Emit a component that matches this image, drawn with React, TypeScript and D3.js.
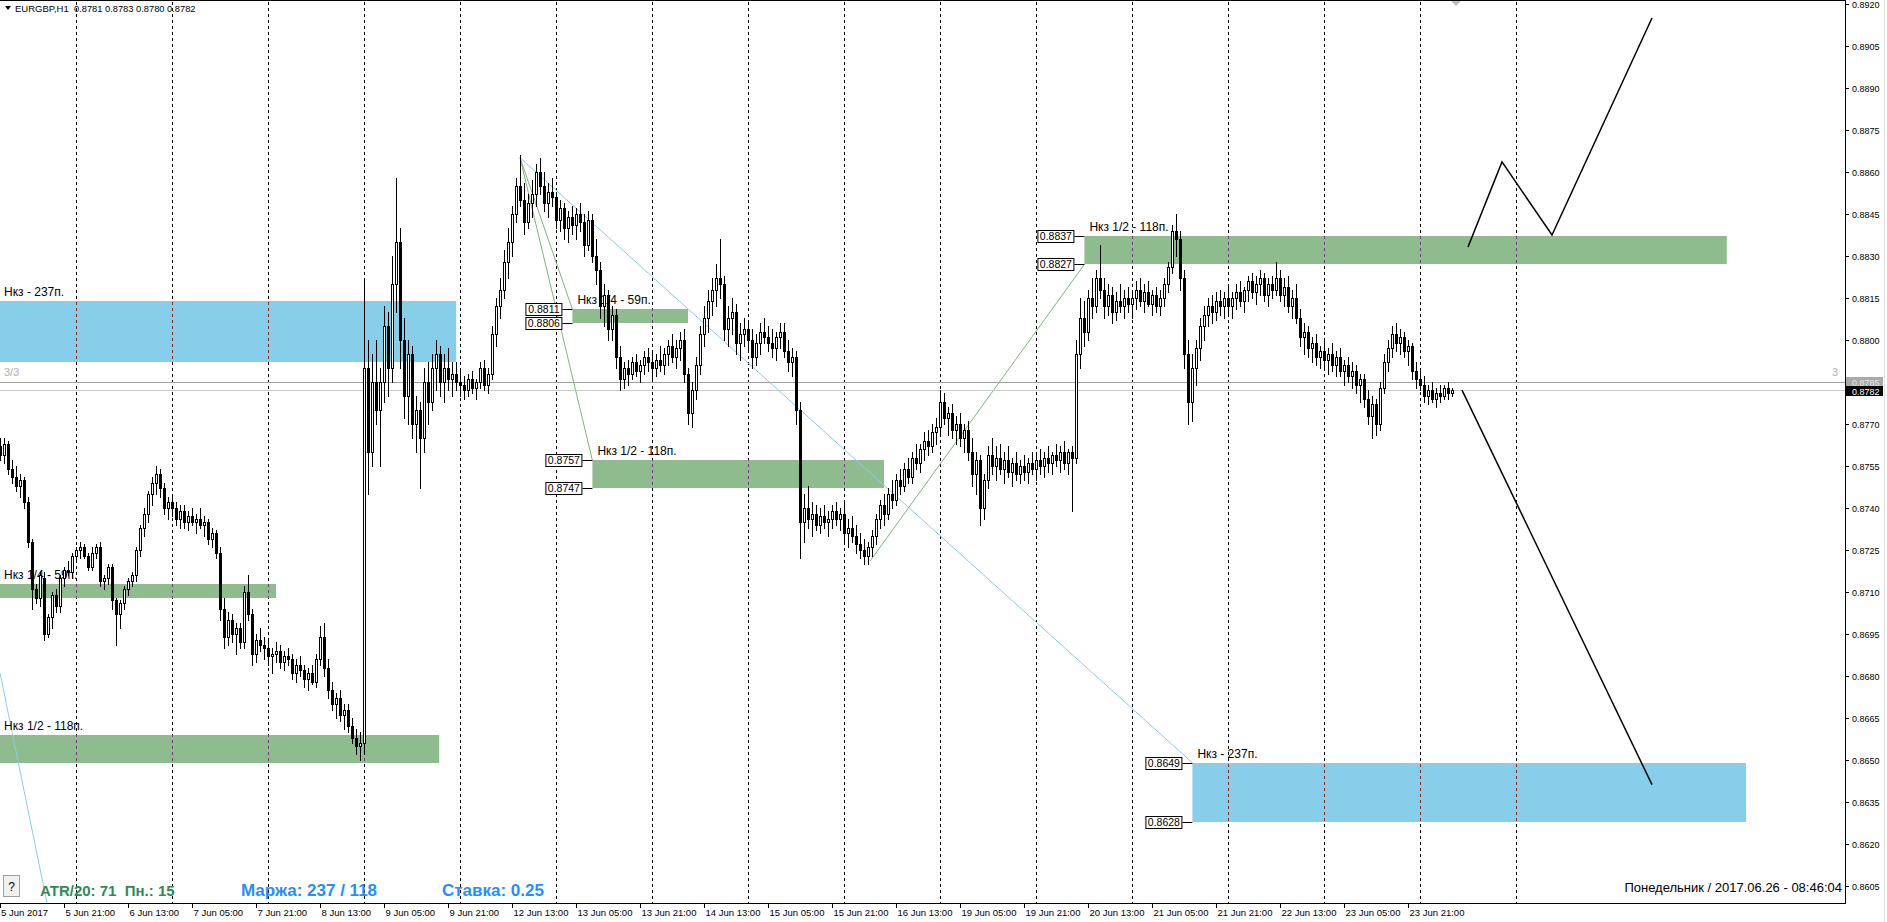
import React from 'react';
import * as d3 from 'd3';

type C = [number, number, number, number]; // open, high, low, close (in 1e-4)

const jun05: C[] = [
  [8762,8765,8757,8759],[8759,8765,8756,8763],[8763,8764,8752,8754],[8754,8757,8749,8751],
  [8751,8755,8746,8748],[8748,8752,8744,8750],[8750,8751,8740,8742],[8742,8744,8726,8728],
  [8728,8729,8704,8711],[8711,8713,8706,8708],[8708,8717,8705,8716],[8715,8717,8693,8695],
  [8695,8702,8694,8701],[8701,8710,8697,8709],[8709,8711,8703,8705],[8705,8716,8703,8715],
  [8715,8719,8712,8718],[8718,8721,8716,8717],[8717,8724,8715,8723],
];
const jun06: C[] = [
  [8723,8726,8721,8725],[8725,8728,8722,8726],[8726,8727,8722,8723],[8723,8724,8718,8719],
  [8719,8726,8718,8724],[8724,8727,8722,8726],[8726,8728,8712,8714],[8714,8716,8711,8715],
  [8715,8720,8713,8719],[8719,8720,8704,8707],[8707,8708,8691,8702],[8702,8707,8697,8706],
  [8706,8712,8704,8711],[8711,8715,8709,8714],[8714,8717,8712,8716],[8716,8726,8714,8725],
  [8725,8734,8723,8733],[8733,8740,8730,8738],[8738,8746,8735,8745],[8745,8751,8741,8749],
  [8749,8755,8745,8752],[8752,8754,8744,8747],[8747,8749,8738,8740],[8740,8744,8736,8742],
];
const jun07: C[] = [
  [8742,8745,8737,8740],[8740,8742,8734,8736],[8736,8741,8733,8739],[8739,8741,8733,8735],
  [8735,8739,8732,8737],[8737,8740,8734,8735],[8735,8738,8731,8736],[8736,8740,8733,8734],
  [8734,8737,8730,8735],[8735,8736,8727,8729],[8729,8733,8726,8731],[8731,8732,8722,8724],
  [8724,8726,8700,8704],[8704,8708,8690,8694],[8694,8703,8691,8700],[8700,8702,8692,8695],
  [8695,8699,8688,8697],[8697,8699,8690,8692],[8692,8712,8690,8710],[8710,8716,8700,8702],
  [8702,8704,8684,8688],[8688,8695,8685,8693],[8693,8697,8689,8691],[8691,8694,8686,8690],
];
const jun08: C[] = [
  [8690,8693,8684,8687],[8687,8690,8681,8688],[8688,8692,8685,8689],[8689,8691,8683,8685],
  [8685,8689,8682,8687],[8687,8690,8684,8686],[8686,8688,8679,8681],[8681,8686,8678,8684],
  [8684,8687,8680,8682],[8682,8684,8676,8679],[8679,8683,8675,8681],[8681,8684,8677,8678],
  [8678,8688,8676,8686],[8686,8698,8684,8694],[8694,8699,8680,8683],[8683,8686,8672,8675],
  [8675,8678,8668,8670],[8670,8674,8665,8672],[8672,8675,8664,8666],[8666,8670,8661,8668],
  [8668,8670,8660,8662],[8662,8665,8656,8658],[8658,8661,8652,8655],[8655,8660,8650,8656],
];
const jun09: C[] = [
  [8656,8822,8652,8790],[8790,8800,8745,8760],[8760,8795,8755,8785],[8785,8800,8770,8775],
  [8775,8790,8755,8785],[8785,8812,8778,8805],[8805,8810,8780,8790],[8790,8830,8785,8820],
  [8820,8858,8810,8835],[8835,8840,8790,8800],[8800,8808,8772,8780],[8780,8800,8770,8795],
  [8795,8798,8765,8770],[8770,8780,8760,8775],[8775,8778,8747,8765],[8765,8790,8760,8785],
  [8785,8792,8770,8778],[8778,8795,8775,8790],[8790,8800,8782,8795],[8795,8798,8780,8785],
  [8785,8795,8778,8790],[8790,8797,8782,8786],[8786,8792,8780,8788],[8788,8792,8782,8785],
];
const jun12: C[] = [
  [8785,8790,8780,8784],[8784,8787,8779,8782],[8782,8788,8780,8786],[8786,8789,8781,8783],
  [8783,8786,8779,8785],[8785,8792,8783,8790],[8790,8793,8782,8784],[8784,8790,8781,8788],
  [8788,8805,8786,8802],[8802,8815,8798,8812],[8812,8822,8808,8818],[8818,8832,8815,8828],
  [8828,8840,8822,8835],[8835,8848,8830,8845],[8845,8858,8842,8855],[8855,8866,8848,8850],
  [8850,8856,8838,8842],[8842,8852,8840,8849],[8849,8857,8844,8852],[8852,8863,8848,8860],
  [8860,8865,8852,8855],[8855,8860,8846,8849],[8849,8856,8844,8853],[8853,8858,8848,8851],
];
const jun13: C[] = [
  [8851,8853,8840,8843],[8843,8850,8839,8847],[8847,8849,8836,8840],[8840,8846,8835,8844],
  [8844,8848,8838,8841],[8841,8847,8836,8845],[8845,8849,8839,8842],[8842,8845,8830,8834],
  [8834,8846,8832,8843],[8843,8845,8828,8830],[8830,8836,8820,8825],[8825,8828,8808,8812],
  [8812,8820,8805,8816],[8816,8818,8800,8804],[8804,8812,8800,8809],[8809,8811,8790,8794],
  [8794,8798,8782,8786],[8786,8792,8783,8790],[8790,8793,8784,8788],[8788,8794,8786,8792],
  [8792,8795,8787,8789],[8789,8793,8785,8791],[8791,8796,8788,8794],[8794,8797,8789,8792],
];
const jun14: C[] = [
  [8792,8796,8786,8790],[8790,8795,8787,8793],[8793,8798,8789,8791],[8791,8797,8788,8795],
  [8795,8800,8791,8798],[8798,8802,8792,8794],[8794,8800,8790,8797],[8797,8803,8793,8800],
  [8800,8804,8785,8788],[8788,8790,8770,8774],[8774,8785,8769,8782],[8782,8794,8779,8791],
  [8791,8805,8788,8802],[8802,8812,8798,8808],[8808,8818,8803,8814],[8814,8822,8809,8818],
  [8818,8827,8812,8822],[8822,8836,8815,8820],[8820,8823,8800,8804],[8804,8812,8798,8808],
  [8808,8815,8802,8810],[8810,8813,8795,8799],[8799,8806,8793,8802],[8802,8808,8798,8804],
];
const jun15: C[] = [
  [8804,8807,8796,8800],[8800,8804,8790,8794],[8794,8802,8791,8799],[8799,8806,8795,8803],
  [8803,8808,8799,8801],[8801,8805,8796,8799],[8799,8804,8794,8797],[8797,8803,8793,8801],
  [8801,8806,8797,8803],[8803,8806,8794,8796],[8796,8800,8789,8792],[8792,8797,8787,8794],
  [8794,8796,8770,8775],[8775,8778,8722,8735],[8735,8745,8728,8740],[8740,8748,8733,8736],
  [8736,8742,8730,8738],[8738,8741,8732,8734],[8734,8740,8731,8737],[8737,8741,8733,8735],
  [8735,8739,8730,8736],[8736,8741,8733,8739],[8739,8742,8734,8736],[8736,8740,8732,8738],
];
const jun16: C[] = [
  [8738,8742,8728,8731],[8731,8736,8726,8733],[8733,8737,8728,8730],[8730,8734,8724,8727],
  [8727,8731,8722,8725],[8725,8729,8720,8723],[8723,8728,8720,8726],[8726,8732,8723,8730],
  [8730,8738,8727,8736],[8736,8743,8733,8741],[8741,8745,8734,8738],[8738,8747,8736,8745],
  [8745,8750,8740,8743],[8743,8752,8741,8750],[8750,8754,8745,8748],[8748,8756,8746,8754],
  [8754,8758,8749,8751],[8751,8760,8749,8758],[8758,8763,8754,8756],[8756,8763,8753,8761],
  [8761,8767,8757,8764],[8764,8768,8759,8762],[8762,8770,8760,8767],[8767,8772,8763,8769],
];
const jun19: C[] = [
  [8769,8782,8766,8778],[8778,8781,8770,8772],[8772,8776,8766,8774],[8774,8777,8765,8768],
  [8768,8773,8763,8770],[8770,8774,8762,8765],[8765,8770,8760,8768],[8768,8771,8757,8760],
  [8760,8765,8748,8752],[8752,8760,8745,8757],[8757,8759,8734,8740],[8740,8752,8736,8750],
  [8750,8762,8747,8759],[8759,8765,8752,8755],[8755,8762,8750,8758],[8758,8763,8752,8754],
  [8754,8760,8749,8757],[8757,8762,8751,8753],[8753,8758,8748,8756],[8756,8760,8750,8752],
  [8752,8757,8749,8755],[8755,8759,8750,8753],[8753,8758,8749,8756],[8756,8760,8752,8754],
];
const jun20: C[] = [
  [8754,8759,8750,8757],[8757,8761,8752,8755],[8755,8760,8751,8758],[8758,8762,8753,8756],
  [8756,8760,8752,8759],[8759,8763,8755,8757],[8757,8762,8753,8760],[8760,8764,8754,8756],
  [8756,8761,8752,8760],[8760,8762,8739,8758],[8758,8800,8756,8795],[8795,8815,8790,8808],
  [8808,8814,8798,8803],[8803,8818,8800,8815],[8815,8822,8808,8812],[8812,8825,8810,8822],
  [8822,8834,8815,8818],[8818,8822,8808,8812],[8812,8820,8809,8816],[8816,8819,8806,8810],
  [8810,8817,8807,8814],[8814,8820,8810,8812],[8812,8818,8808,8815],[8815,8819,8810,8813],
];
const jun21: C[] = [
  [8813,8818,8808,8815],[8815,8821,8811,8818],[8818,8822,8812,8814],[8814,8820,8810,8817],
  [8817,8821,8812,8813],[8813,8818,8809,8816],[8816,8819,8810,8812],[8812,8818,8809,8815],
  [8815,8822,8812,8820],[8820,8828,8817,8826],[8826,8841,8824,8839],[8839,8845,8830,8836],
  [8836,8839,8818,8822],[8822,8825,8790,8795],[8795,8800,8770,8778],[8778,8795,8771,8790],
  [8790,8800,8784,8797],[8797,8808,8793,8805],[8805,8812,8800,8809],[8809,8815,8805,8812],
  [8812,8816,8806,8810],[8810,8817,8807,8814],[8814,8818,8809,8812],[8812,8817,8808,8815],
];
const jun22: C[] = [
  [8815,8819,8809,8812],[8812,8817,8808,8815],[8815,8820,8811,8817],[8817,8821,8812,8814],
  [8814,8819,8810,8818],[8818,8823,8814,8821],[8821,8824,8815,8817],[8817,8823,8813,8820],
  [8820,8825,8816,8822],[8822,8824,8814,8816],[8816,8822,8812,8820],[8820,8823,8815,8818],
  [8818,8828,8816,8822],[8822,8825,8814,8816],[8816,8822,8812,8819],[8819,8823,8810,8812],
  [8812,8818,8808,8815],[8815,8820,8806,8808],[8808,8811,8798,8801],[8801,8806,8795,8803],
  [8803,8805,8794,8797],[8797,8801,8792,8799],[8799,8802,8791,8794],[8794,8798,8790,8796],
];
const jun23: C[] = [
  [8796,8800,8790,8793],[8793,8797,8788,8795],[8795,8799,8789,8791],[8791,8796,8787,8794],
  [8794,8797,8787,8789],[8789,8793,8784,8791],[8791,8794,8785,8787],[8787,8792,8783,8789],
  [8789,8791,8781,8784],[8784,8788,8778,8786],[8786,8788,8776,8779],[8779,8782,8770,8773],
  [8773,8780,8765,8777],[8777,8779,8766,8770],[8770,8785,8768,8783],[8783,8795,8781,8792],
  [8792,8800,8789,8797],[8797,8805,8794,8802],[8802,8806,8796,8799],[8799,8804,8795,8801],
  [8801,8803,8794,8796],[8796,8800,8791,8798],[8798,8799,8786,8789],[8789,8792,8783,8786],
];
const jun26: C[] = [
  [8786,8790,8782,8784],[8784,8787,8778,8780],[8780,8784,8777,8782],[8782,8785,8778,8779],
  [8779,8783,8776,8781],[8781,8784,8778,8780],[8780,8784,8779,8783],[8783,8785,8779,8781],
  [8781,8783,8780,8782],
];

const priceTicks = [0.8920,0.8905,0.8890,0.8875,0.8860,0.8845,0.8830,0.8815,0.8800,0.8785,0.8770,
  0.8755,0.8740,0.8725,0.8710,0.8695,0.8680,0.8665,0.8650,0.8635,0.8620,0.8605];
const timeLabels = ["5 Jun 2017","5 Jun 21:00","6 Jun 13:00","7 Jun 05:00","7 Jun 21:00","8 Jun 13:00",
  "9 Jun 05:00","9 Jun 21:00","12 Jun 13:00","13 Jun 05:00","13 Jun 21:00","14 Jun 13:00","15 Jun 05:00",
  "15 Jun 21:00","16 Jun 13:00","19 Jun 05:00","19 Jun 21:00","20 Jun 13:00","21 Jun 05:00","21 Jun 21:00",
  "22 Jun 13:00","23 Jun 05:00","23 Jun 21:00"];
const labelStep = 16; // bars between time labels
const dayStarts = [19,43,67,91,115,139,163,187,211,235,259,283,307,331,355,379]; // bar index of 00:00

type Zone = { x0: number; x1: number; top: number; bot: number; label: string; kind: 'blue' | 'green'; boxes: boolean; labelX?: number };
const zones: Zone[] = [
  { x0: -3, x1: 114, top: 0.8814, bot: 0.8792, label: 'Нкз - 237п.', kind: 'blue', boxes: false, labelX: 1 },
  { x0: -3, x1: 69, top: 0.8713, bot: 0.8708, label: 'Нкз 1/4 - 59п.', kind: 'green', boxes: false, labelX: 1 },
  { x0: -3, x1: 109.8, top: 0.8659, bot: 0.8649, label: 'Нкз 1/2 - 118п.', kind: 'green', boxes: false, labelX: 1 },
  { x0: 143.1, x1: 172, top: 0.8811, bot: 0.8806, label: 'Нкз 1/4 - 59п.', kind: 'green', boxes: true },
  { x0: 148.1, x1: 221, top: 0.8757, bot: 0.8747, label: 'Нкз 1/2 - 118п.', kind: 'green', boxes: true },
  { x0: 271.1, x1: 431.7, top: 0.8837, bot: 0.8827, label: 'Нкз 1/2 - 118п.', kind: 'green', boxes: true },
  { x0: 298.1, x1: 436.5, top: 0.8649, bot: 0.8628, label: 'Нкз - 237п.', kind: 'blue', boxes: true },
];
const blueLines: [number, number, number, number][] = [
  [130, 0.88651, 298.1, 0.8649],
  [0, 0.86811, 11.8, 0.85986],
];
const greenLines: [number, number, number, number][] = [
  [130, 0.88651, 143.1, 0.8811],
  [130, 0.88651, 148.1, 0.8757],
  [217.5, 0.8721, 271.1, 0.8827],
];
const zigUp: [number, number][] = [[367, 0.88332], [375.5, 0.88636], [388, 0.88375], [413, 0.8915]];
const zigDown: [number, number][] = [[365.5, 0.87821], [413, 0.86412]];

const W = 1887, H = 922;
const RIGHT = 1845, BOTTOM = 903;
const FONT = "'Liberation Sans', Arial, sans-serif";

export default function App() {
  const candles: C[] = [...jun05, ...jun06, ...jun07, ...jun08, ...jun09, ...jun12, ...jun13, ...jun14,
    ...jun15, ...jun16, ...jun19, ...jun20, ...jun21, ...jun22, ...jun23, ...jun26];
  const x = d3.scaleLinear().domain([0, 1]).range([0, 4]);
  const y = d3.scaleLinear().domain([0.8920, 0.8605]).range([4, 886]);
  const py = (v: number) => y(v / 10000);
  const crisp = (v: number) => Math.round(v) + 0.5;
  const line = d3.line<[number, number]>().x(d => x(d[0])).y(d => y(d[1]));

  const zoneFill = (k: string) => (k === 'blue' ? '#87ceeb' : '#8fbc8f');
  const gridInZone = (k: string) => (k === 'blue' ? '#8b2a14' : '#6e3f78');

  const gridLines = dayStarts.map(i => crisp(x(i)));

  return (
    <div style={{ position: 'fixed', left: 0, top: 0, width: W, height: H, background: '#fff' }}>
      <svg width={W} height={H} style={{ display: 'block' }} fontFamily={FONT}>
        <defs>
          <clipPath id="plot"><rect x={0} y={0} width={RIGHT} height={BOTTOM} /></clipPath>
          {zones.map((z, k) => (
            <clipPath id={`zc${k}`} key={k}>
              <rect x={x(z.x0)} y={Math.round(y(z.top))} width={x(z.x1) - x(z.x0)} height={Math.round(y(z.bot)) - Math.round(y(z.top))} />
            </clipPath>
          ))}
        </defs>
        <rect x={0} y={0} width={W} height={H} fill="#fff" />
        <g clipPath="url(#plot)">
          {zones.map((z, k) => (
            <rect key={k} x={x(z.x0)} y={Math.round(y(z.top))} width={x(z.x1) - x(z.x0)}
              height={Math.round(y(z.bot)) - Math.round(y(z.top))} fill={zoneFill(z.kind)} />
          ))}
          {gridLines.map((gx, k) => (
            <line key={k} x1={gx} x2={gx} y1={2} y2={BOTTOM} stroke="#000" strokeDasharray="3,3" />
          ))}
          {zones.map((z, k) => (
            <g key={k} clipPath={`url(#zc${k})`}>
              {gridLines.map((gx, j) => (
                <line key={j} x1={gx} x2={gx} y1={2} y2={BOTTOM} stroke={gridInZone(z.kind)} strokeDasharray="3,3" />
              ))}
            </g>
          ))}
          {blueLines.map((l, k) => (
            <path key={k} d={line([[l[0], l[1]], [l[2], l[3]]]) || ''} stroke="#87ceeb" fill="none" />
          ))}
          {greenLines.map((l, k) => (
            <path key={k} d={line([[l[0], l[1]], [l[2], l[3]]]) || ''} stroke="#7fb47f" fill="none" />
          ))}
          {zones.map((z, k) => (
            <text key={k} x={z.labelX !== undefined ? z.labelX + 3 : x(z.x0) + 5} y={Math.round(y(z.top)) - 5}
              fontSize={12} fill="#000">{z.label}</text>
          ))}
          <line x1={0} x2={RIGHT} y1={crisp(y(0.8785))} y2={crisp(y(0.8785))} stroke="#a0a0a0" />
          <line x1={0} x2={RIGHT} y1={crisp(y(0.8782))} y2={crisp(y(0.8782))} stroke="#c8c8c8" />
          <text x={4} y={y(0.8785) - 6} fontSize={11} fill="#b0b0b0">3/3</text>
          <text x={1832} y={y(0.8785) - 6} fontSize={11} fill="#b0b0b0">3</text>
          {candles.map((c, i) => {
            const [o, h, l, cl] = c;
            const cx = Math.round(x(i));
            const yt = Math.round(py(Math.max(o, cl)));
            const yb = Math.round(py(Math.min(o, cl)));
            const bull = cl >= o;
            return (
              <g key={i}>
                <line x1={cx + 0.5} x2={cx + 0.5} y1={Math.round(py(h))} y2={Math.round(py(l)) + 1} stroke="#000" />
                {yb - yt < 1 ? (
                  <line x1={cx - 1} x2={cx + 2} y1={yt + 0.5} y2={yt + 0.5} stroke="#000" />
                ) : (
                  <rect x={cx - 0.5} y={yt + 0.5} width={2} height={yb - yt} fill={bull ? '#fff' : '#000'} stroke="#000" />
                )}
              </g>
            );
          })}
          <path d={line(zigUp) || ''} stroke="#000" strokeWidth={1.5} fill="none" />
          <path d={line(zigDown) || ''} stroke="#000" strokeWidth={1.5} fill="none" />
          {zones.filter(z => z.boxes).map((z, k) => {
            const lx = x(z.x0);
            return (
              <g key={k}>
                {[z.top, z.bot].map((p, j) => {
                  const yy = Math.round(y(p));
                  return (
                    <g key={j}>
                      <line x1={lx - 10} x2={lx} y1={yy + 0.5} y2={yy + 0.5} stroke="#000" />
                      <rect x={lx - 46.5} y={yy - 5.5} width={36} height={12} fill="#fff" stroke="#000" />
                      <text x={lx - 28.5} y={yy + 4} fontSize={10.5} textAnchor="middle" fill="#000">{p.toFixed(4)}</text>
                    </g>
                  );
                })}
              </g>
            );
          })}
          <path d="M1451,1 L1461,1 L1456,6 Z" fill="#c0c0c0" />
          <path d="M5,6 L11,6 L8,10 Z" fill="#000" />
          <text x={15} y={12} fontSize={9.5} fill="#000">EURGBP,H1</text>
          <text x={74} y={12} fontSize={9.3} fill="#000">0.8781 0.8783 0.8780 0.8782</text>
          <rect x={3.5} y={875.5} width={16} height={21} fill="#f0f0f0" stroke="#a0a0a0" />
          <text x={11.5} y={891} fontSize={12} textAnchor="middle" fill="#000">?</text>
          <text x={40} y={896} fontSize={15} fontWeight="bold" fill="#2e8b57" style={{ whiteSpace: 'pre' }}>{'ATR/20: 71  Пн.: 15'}</text>
          <text x={241} y={896} fontSize={17} fontWeight="bold" fill="#1e90ff">Маржа: 237 / 118</text>
          <text x={442} y={896} fontSize={17} fontWeight="bold" fill="#1e90ff">Ставка: 0.25</text>
          <text x={1842} y={892} fontSize={13} textAnchor="end" fill="#000">Понедельник / 2017.06.26 - 08:46:04</text>
        </g>
        <line x1={0} x2={RIGHT} y1={0.5} y2={0.5} stroke="#000" />
        <line x1={RIGHT + 0.5} x2={RIGHT + 0.5} y1={0} y2={BOTTOM + 1} stroke="#000" />
        <line x1={0} x2={RIGHT + 1} y1={BOTTOM + 0.5} y2={BOTTOM + 0.5} stroke="#000" />
        {priceTicks.map((p, k) => {
          const yy = crisp(y(p));
          return (
            <g key={k}>
              <line x1={RIGHT} x2={RIGHT + 4} y1={yy} y2={yy} stroke="#000" />
              <text x={RIGHT + 7} y={yy + 3.5} fontSize={9} fill="#000">{p.toFixed(4)}</text>
            </g>
          );
        })}
        <rect x={RIGHT + 1} y={Math.round(y(0.8785)) - 5} width={37} height={10} fill="#a9a9a9" />
        <text x={RIGHT + 7} y={Math.round(y(0.8785)) + 3.5} fontSize={9} fill="#e8e8e8">0.8785</text>
        <rect x={RIGHT + 1} y={Math.round(y(0.8782)) - 4} width={37} height={10} fill="#000" />
        <text x={RIGHT + 7} y={Math.round(y(0.8782)) + 4.5} fontSize={9} fill="#fff">0.8782</text>
        {timeLabels.map((t, k) => {
          const tx = crisp(x(k * labelStep));
          return (
            <g key={k}>
              <line x1={tx} x2={tx} y1={BOTTOM} y2={BOTTOM + 5} stroke="#000" />
              <text x={k === 0 ? 1 : tx + 1} y={BOTTOM + 13} fontSize={9.5} fill="#000">{t}</text>
            </g>
          );
        })}
        <line x1={1884.5} x2={1884.5} y1={0} y2={H} stroke="#e0e0e0" />
      </svg>
    </div>
  );
}
